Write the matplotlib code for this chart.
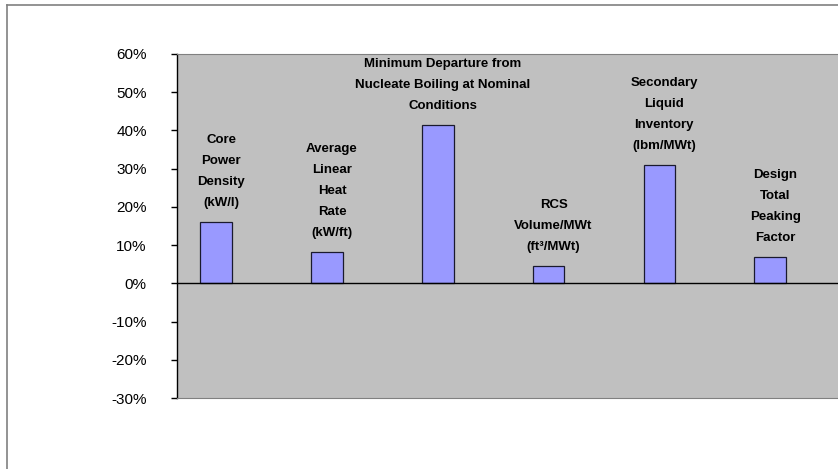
import numpy as np
import matplotlib.pyplot as plt
from matplotlib.lines import Line2D

plt.rcParams['font.family'] = ['Liberation Sans', 'DejaVu Sans']

# Percent change by design parameter
labels = [
    "Core\nPower\nDensity\n(kW/l)",
    "Average\nLinear\nHeat\nRate\n(kW/ft)",
    "Minimum Departure from\nNucleate Boiling at Nominal\nConditions",
    "RCS\nVolume/MWt\n(ft\u00b3/MWt)",
    "Secondary\nLiquid\nInventory\n(lbm/MWt)",
    "Design\nTotal\nPeaking\nFactor",
]
changes = [16.0, 8.2, 41.5, 4.5, 30.9, 6.8]
yticks = [-30, -20, -10, 0, 10, 20, 30, 40, 50, 60]

fig = plt.figure(figsize=(8.38, 4.69), dpi=100)
W, H = 838, 469

# plot area runs a little past the right edge
ax = fig.add_axes([176.6 / W, 1 - 398 / H, 664.8 / W, 344 / H])
ax.set_facecolor('#C0C0C0')

n = len(changes)
cat = np.arange(n)
bw = 1 / 3.5
xpos = cat - bw / 2
ax.bar(xpos, changes, width=bw, color='#9999FF', edgecolor='#1a1a2e', linewidth=0.9, zorder=3)

for x, v, lab in zip(xpos, changes, labels):
    ax.annotate(lab, (x, v), xytext=(5, 13), textcoords='offset pixels',
                ha='center', va='bottom', fontsize=9.5, fontweight='bold',
                linespacing=2.0, color='black', zorder=4)

ax.axhline(0, color='black', linewidth=1, zorder=4)
ax.set_xlim(-0.5, n - 0.5)
ax.set_ylim(-30, 60)
ax.set_xticks([])
ax.set_yticks(yticks)
ax.set_yticklabels([f"{t}%" for t in yticks], fontsize=11)
ax.tick_params(axis='y', direction='out', length=4.5, width=1, pad=17, color='black')

ax.spines['left'].set_color('black')
ax.spines['left'].set_linewidth(1)
ax.spines['top'].set_color('#808080')
ax.spines['bottom'].set_color('#808080')
ax.spines['right'].set_visible(False)

# chart frame (top and left edges)
fig.add_artist(Line2D([7 / W, 1], [1 - 5 / H, 1 - 5 / H], color='#808080', linewidth=1.2))
fig.add_artist(Line2D([7 / W, 7 / W], [0, 1 - 5 / H], color='#808080', linewidth=1.2))

fig.savefig('out.png', dpi=100)
